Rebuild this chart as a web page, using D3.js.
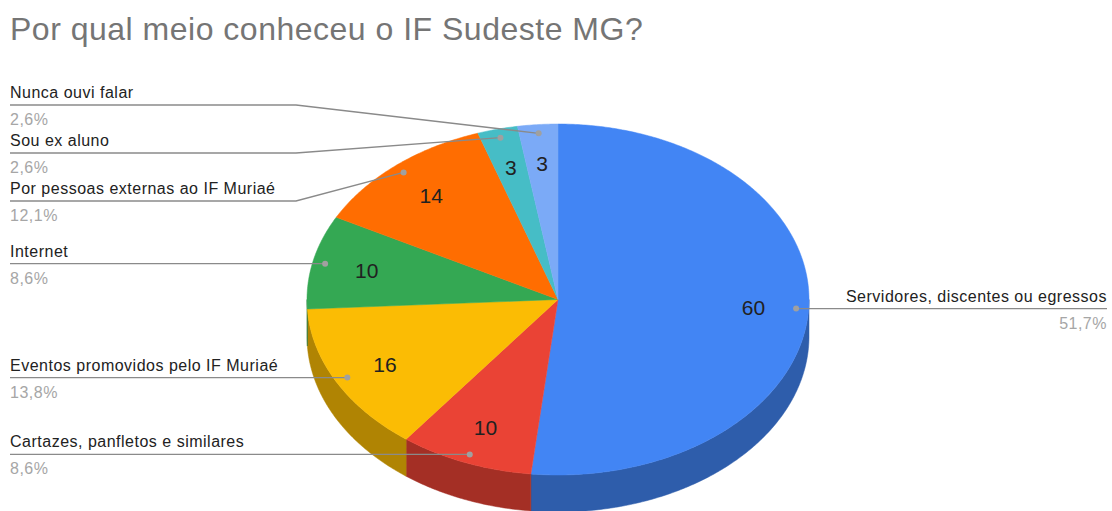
<!DOCTYPE html>
<html lang="pt">
<head>
<meta charset="UTF-8"/>
<title>Por qual meio conheceu o IF Sudeste MG?</title>
<script src="https://d3js.org/d3.v7.min.js"></script>
<style>
  body { margin: 0; background: #fff; }
  text { font-family: "Liberation Sans", Arial, sans-serif; }
</style>
</head>
<body>
<script>
var categories = [
    "Servidores, discentes ou egressos",
    "Cartazes, panfletos e similares",
    "Eventos promovidos pelo IF Muriaé",
    "Internet",
    "Por pessoas externas ao IF Muriaé",
    "Sou ex aluno",
    "Nunca ouvi falar"
];
var values = [60, 10, 16, 10, 14, 3, 3];
var colors = ["#4285F4", "#EA4335", "#FBBC04", "#34A853", "#FF6D01", "#46BDC6", "#7BAAF7"];

var w = 1112, h = 511;
var cx = 558, cy = 299.5, rx = 251, ry = 175.5, depth = 37;

var svg = d3.select("body").append("svg")
    .attr("width", w)
    .attr("height", h);

svg.append("text")
    .attr("x", 10)
    .attr("y", 40)
    .attr("font-size", "32px")
    .attr("letter-spacing", "0.5px")
    .attr("fill", "#757575")
    .text("Por qual meio conheceu o IF Sudeste MG?");

// unit circle -> ellipse on screen
var xScale = d3.scaleLinear().domain([-1, 1]).range([cx - rx, cx + rx]);
var yScale = d3.scaleLinear().domain([-1, 1]).range([cy - ry, cy + ry]);

function pt(a, f, dy) {
    return [xScale(f * Math.sin(a)), yScale(-f * Math.cos(a)) + (dy || 0)];
}
function arcPts(a0, a1, dy) {
    var n = Math.max(2, Math.ceil((a1 - a0) / 0.01));
    return d3.range(n + 1).map(function(i) { return pt(a0 + (a1 - a0) * i / n, 1, dy); });
}

var pie = d3.pie().sort(null).value(function(d) { return d; });
var arcs = pie(values);
var total = d3.sum(values);
var line = d3.line();
var pct = d3.formatLocale({decimal: ",", thousands: ".", grouping: [3], currency: ["R$", ""]}).format(".1%");

// side walls (front half only)
var walls = svg.append("g");
arcs.forEach(function(d, i) {
    var a0 = Math.max(d.startAngle, Math.PI / 2);
    var a1 = Math.min(d.endAngle, 3 * Math.PI / 2);
    if (a1 <= a0) return;
    var top = arcPts(a0, a1, 0);
    var bottom = arcPts(a0, a1, depth).reverse();
    walls.append("path")
        .attr("d", line(top.concat(bottom)) + "Z")
        .attr("fill", d3.color(colors[i]).darker(1))
        .attr("stroke", d3.color(colors[i]).darker(1))
        .attr("stroke-width", 0.5);
});

// top faces
var faces = svg.append("g");
arcs.forEach(function(d, i) {
    var pts = [[cx, cy]].concat(arcPts(d.startAngle, d.endAngle, 0));
    faces.append("path")
        .attr("d", line(pts) + "Z")
        .attr("fill", colors[i])
        .attr("stroke", colors[i])
        .attr("stroke-width", 0.5);
});

// values inside slices
arcs.forEach(function(d, i) {
    var m = (d.startAngle + d.endAngle) / 2;
    var p = pt(m, 0.78);
    svg.append("text")
        .attr("x", p[0])
        .attr("y", p[1] + 8)
        .attr("text-anchor", "middle")
        .attr("font-size", "21px")
        .attr("fill", "#212121")
        .text(d.data);
});

// leader lines + labels
var labelTop = 105, spacing = 48, elbowX = cx - rx - 11, leftX = 10, rightX = 1107;
var items = arcs.map(function(d, i) {
    var m = (d.startAngle + d.endAngle) / 2;
    var p = pt(m, 0.95);
    return {i: i, dot: p, right: Math.sin(m) > 0, y: p[1]};
});

var left = items.filter(function(d) { return !d.right; })
    .sort(function(a, b) { return a.dot[1] - b.dot[1]; });

// resolve overlaps: merge clusters to their mean, then clamp downwards
var blocks = [];
left.forEach(function(it) {
    blocks.push({items: [it], y: it.dot[1]});
    while (blocks.length > 1) {
        var b = blocks[blocks.length - 1], a = blocks[blocks.length - 2];
        if (a.y + a.items.length * spacing <= b.y) break;
        var all = a.items.concat(b.items);
        var y0 = d3.mean(all, function(t, k) { return t.dot[1] - k * spacing; });
        blocks.splice(blocks.length - 2, 2, {items: all, y: y0});
    }
});
var prev = null;
blocks.forEach(function(b) {
    b.items.forEach(function(t, k) {
        t.y = b.y + k * spacing;
        if (prev === null) t.y = Math.max(t.y, labelTop);
        else t.y = Math.max(t.y, prev.y + spacing);
        prev = t;
    });
});

var lab = svg.append("g");
items.forEach(function(it) {
    var pts;
    if (it.right) {
        pts = [it.dot, [rightX, it.y]];
    } else {
        pts = [it.dot, [elbowX, it.y], [leftX, it.y]];
    }
    lab.append("path")
        .attr("d", line(pts))
        .attr("fill", "none")
        .attr("stroke", "#8a8a8a")
        .attr("stroke-width", 1.3);
    lab.append("circle")
        .attr("cx", it.dot[0])
        .attr("cy", it.dot[1])
        .attr("r", 3)
        .attr("fill", "#a0a0a0");

    var x = it.right ? rightX : leftX;
    var anchor = it.right ? "end" : "start";
    lab.append("text")
        .attr("x", x)
        .attr("y", it.y - 7)
        .attr("text-anchor", anchor)
        .attr("font-size", "16px")
        .attr("letter-spacing", "0.5px")
        .attr("fill", "#222")
        .text(categories[it.i]);
    lab.append("text")
        .attr("x", x)
        .attr("y", it.y + 20)
        .attr("text-anchor", anchor)
        .attr("font-size", "16px")
        .attr("letter-spacing", "0.5px")
        .attr("fill", "#a6a6a6")
        .text(pct(values[it.i] / total));
});
</script>
</body>
</html>
